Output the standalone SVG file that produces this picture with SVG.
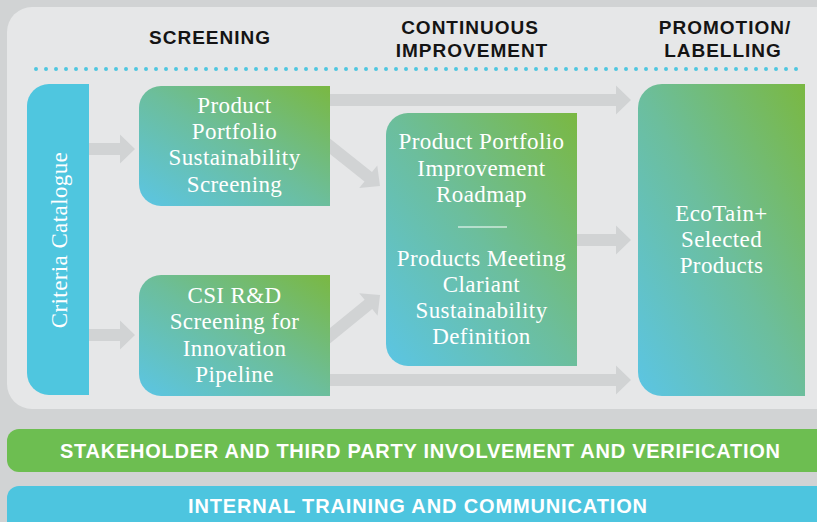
<svg xmlns="http://www.w3.org/2000/svg" width="817" height="522" viewBox="0 0 817 522">
  <defs>
    <linearGradient id="boxGrad" x1="0" y1="1" x2="1" y2="0">
      <stop offset="0" stop-color="#5bc5e4"/>
      <stop offset="0.5" stop-color="#6cbe9c"/>
      <stop offset="1" stop-color="#7ab842"/>
    </linearGradient>
    <style>
      .bg { fill: #d1d3d4; }
      .panel { fill: #e6e7e8; }
      .arrow { fill: #d1d3d4; }
      .head { font-family: "Liberation Sans", Arial, sans-serif; font-weight: bold; font-size: 19px; fill: #141414; text-anchor: middle; letter-spacing: 1px; }
      .band { font-family: "Liberation Sans", Arial, sans-serif; font-weight: bold; font-size: 20px; fill: #ffffff; text-anchor: middle; }
      .lbl { font-family: "Liberation Serif", "Times New Roman", serif; font-size: 23px; fill: #ffffff; text-anchor: middle; letter-spacing: 0.4px; }
      .box { fill: url(#boxGrad); }
    </style>
  </defs>

  <!-- backdrop and main panel -->
  <rect class="bg" x="0" y="0" width="817" height="522"/>
  <rect class="panel" x="7" y="7" width="840" height="402" rx="25" ry="25"/>

  <!-- column headings -->
  <g id="headings">
    <text class="head" x="210" y="44">SCREENING</text>
    <text class="head" x="470" y="34">CONTINUOUS</text>
    <text class="head" x="472" y="57">IMPROVEMENT</text>
    <text class="head" x="725" y="34">PROMOTION/</text>
    <text class="head" x="723" y="57">LABELLING</text>
  </g>

  <!-- dotted separator -->
  <line x1="36" y1="69" x2="806" y2="69" stroke="#4fc6df" stroke-width="4" stroke-linecap="round" stroke-dasharray="0 10"/>

  <!-- connectors -->
  <g id="connectors">
    <path class="arrow" d="M85,143 H120 V134.5 L135,149 L120,163.5 V155 H85 Z"/>
    <path class="arrow" d="M85,329 H120 V320.5 L135,335 L120,349.5 V341 H85 Z"/>
    <path class="arrow" d="M325,94 H616 V85.5 L631,100 L616,114.5 V106 H325 Z"/>
    <path class="arrow" d="M570,234 H616 V225.5 L631,240 L616,254.5 V246 H570 Z"/>
    <path class="arrow" d="M325,374 H616 V365.5 L631,380 L616,394.5 V386 H325 Z"/>
    <path class="arrow" transform="translate(325.2,142.5) rotate(38.5)" d="M0,-6 H55 V-14.5 L70,0 L55,14.5 V6 H0 Z"/>
    <path class="arrow" transform="translate(325.8,339.2) rotate(-39.2)" d="M0,-6 H55 V-14.5 L70,0 L55,14.5 V6 H0 Z"/>
  </g>

  <!-- criteria catalogue -->
  <g id="criteria">
    <path d="M89,84 V395 H49 A22,22 0 0 1 27,373 V106 A22,22 0 0 1 49,84 Z" fill="#4fc6df"/>
    <text class="lbl" transform="translate(66.5,240) rotate(-90)" x="0" y="0">Criteria Catalogue</text>
  </g>

  <!-- portfolio screening -->
  <g id="portfolio-screening">
    <path class="box" d="M330,86 V206 H161 A22,22 0 0 1 139,184 V108 A22,22 0 0 1 161,86 Z"/>
    <text class="lbl" x="234.5" y="113">Product</text>
    <text class="lbl" x="234.5" y="139">Portfolio</text>
    <text class="lbl" x="234.5" y="165">Sustainability</text>
    <text class="lbl" x="234.5" y="192">Screening</text>
  </g>

  <!-- R&D screening -->
  <g id="rd-screening">
    <path class="box" d="M330,275 V396 H161 A22,22 0 0 1 139,374 V297 A22,22 0 0 1 161,275 Z"/>
    <text class="lbl" x="234.5" y="303">CSI R&amp;D</text>
    <text class="lbl" x="234.5" y="329">Screening for</text>
    <text class="lbl" x="234.5" y="356">Innovation</text>
    <text class="lbl" x="234.5" y="382">Pipeline</text>
  </g>

  <!-- improvement roadmap -->
  <g id="roadmap">
    <path class="box" d="M577,113 V366 H408 A22,22 0 0 1 386,344 V135 A22,22 0 0 1 408,113 Z"/>
    <text class="lbl" x="481.5" y="149">Product Portfolio</text>
    <text class="lbl" x="481.5" y="176">Improvement</text>
    <text class="lbl" x="481.5" y="202">Roadmap</text>
    <line x1="458" y1="227" x2="507" y2="227" stroke="#ffffff" stroke-width="1.2"/>
    <text class="lbl" x="481.5" y="266">Products Meeting</text>
    <text class="lbl" x="481.5" y="292">Clariant</text>
    <text class="lbl" x="481.5" y="318">Sustainability</text>
    <text class="lbl" x="481.5" y="344">Definition</text>
  </g>

  <!-- selected products -->
  <g id="selected-products">
    <path class="box" d="M805,84 V396 H662 A24,24 0 0 1 638,372 V108 A24,24 0 0 1 662,84 Z"/>
    <text class="lbl" x="721.5" y="221">EcoTain+</text>
    <text class="lbl" x="721.5" y="247">Selected</text>
    <text class="lbl" x="721.5" y="273">Products</text>
  </g>

  <!-- stakeholder band -->
  <g id="stakeholder-band">
    <rect x="7" y="429" width="840" height="43" rx="12" ry="12" fill="#6dbe51"/>
    <text class="band" x="420" y="458" textLength="720" lengthAdjust="spacing">STAKEHOLDER AND THIRD PARTY INVOLVEMENT AND VERIFICATION</text>
  </g>

  <!-- training band -->
  <g id="training-band">
    <rect x="7" y="486" width="840" height="60" rx="12" ry="12" fill="#4dc5df"/>
    <text class="band" x="417.5" y="513" textLength="459" lengthAdjust="spacing">INTERNAL TRAINING AND COMMUNICATION</text>
  </g>
</svg>
